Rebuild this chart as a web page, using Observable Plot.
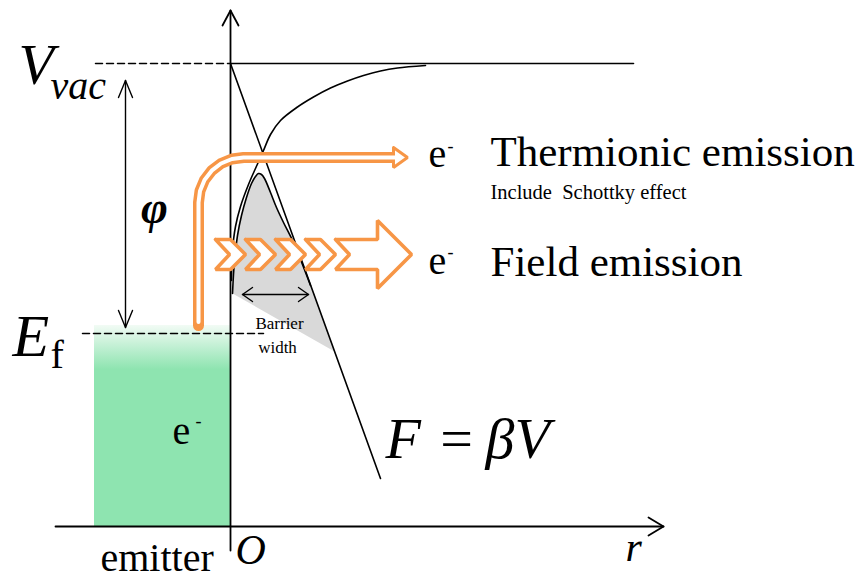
<!DOCTYPE html>
<html><head><meta charset="utf-8">
<script src="https://cdn.jsdelivr.net/npm/d3@7"></script>
<script src="https://cdn.jsdelivr.net/npm/@observablehq/plot@0.6"></script>
<style>html,body{margin:0;padding:0;background:#fff;overflow:hidden}svg{display:block}</style>
</head><body><div id="chart"></div>
<script>
// ---- diagram values (r: distance from emitter surface, E: energy; arbitrary units) ----
const vacuumLevel = 46.3;
const fermiLevel = 19.3;
const rAxis = [[-17.5, 0], [43.3, 0]];
const rArrowHead = [[41.8, 0.9], [43.3, 0], [41.8, -0.9]];
const eAxis = [[0, -2.4], [0, 51.6]];
const eArrowHead = [[-0.8, 50.1], [0, 51.6], [0.8, 50.1]];
const vacuumSolidR = [0, 40.3];
const vacuumDashR = [-13.5, 0];
const fermiDashR = [-14.8, 3.3];
const emitterR = [-13.6, 0];
const emitterE = [0, 20.1];
const phiArrowR = -10.5;
const phiArrowE = [19.9, 44.6];
// potential of applied field F = beta V (straight line)
const fieldLine = [[0, 46.3], [15, 4.8]];
// image-charge potential
const imageCurve = [[19.5,46.1],[16.7,45.85],[15.0,45.55],[13.3,45.1],[11.7,44.55],[10.0,43.85],[8.3,42.95],[6.7,41.95],[5.0,40.6],[4.0,39.2],[3.3,37.6],[2.7,36.25],[1.8,34.2],[1.0,32.0],[0.5,30.0],[0.2,27.6],[0.1,24.6]];
// combined (Schottky-lowered) barrier
const barrierCurve = [[0.2,23.3],[0.4,26.6],[0.7,29.1],[1.1,31.1],[1.6,32.9],[2.1,34.3],[2.5,35.0],[2.8,35.3],[3.1,35.2],[3.4,34.8],[4.0,33.4],[4.6,31.9],[5.3,30.4],[6.2,28.6],[7.0,26.7],[8.0,24.1]];
const barrierShadeEnd = [10.4, 17.5];
const barrierWidthE = 23.2;
const barrierWidthR = [1.2, 7.8];
// thermionic path
const thermoPath = [[-3.2,20.1],[-3.2,32.4],[-3.05,33.56],[-2.6,34.65],[-1.88,35.58],[-0.95,36.3],[0.14,36.75],[1.3,36.9],[16.3,36.9]];
const thermoHead = [[16.3,37.9],[17.7,36.9],[16.3,35.9],[16.3,37.9]];
// field-emission chevrons
const chevronStarts = [-1.5, 1.5, 4.5, 7.5];
const chevronDR = [0, 1.5, 3.0, 1.5, 0, 1.4, 0];
const chevronE = [28.7, 28.7, 27.2, 25.7, 25.7, 27.2, 28.7];
const bigArrowR = [10.5, 14.7, 14.7, 18.1, 14.7, 14.7, 10.5, 11.9, 10.5];
const bigArrowE = [28.7, 28.7, 30.6, 27.2, 23.8, 25.7, 25.7, 27.2, 28.7];

// ---- labels ----
const bigLabels = [
  {t: "Thermionic emission", r: 26.0, E: 36.1},
  {t: "Field emission", r: 26.0, E: 25.1}
];
const eLabels = [
  {t: "e", r: 19.8, E: 36.0, m: 21.7, mE: 37.5},
  {t: "e", r: 19.8, E: 25.3, m: 21.7, mE: 26.9},
  {t: "e", r: -5.8, E: 8.3, m: -3.5, mE: 10.0}
];

const serif = "'Liberation Serif','Times New Roman',serif";
const orange = "#f79646";
const P = d => d[0], Q = d => d[1];

const chevrons = chevronStarts.flatMap((r0, i) => chevronDR.map((dr, j) => ({r: r0 + dr, E: chevronE[j], k: i})));
const bigArrow = bigArrowR.map((r, i) => ({r, E: bigArrowE[i]}));
const shade = [...barrierCurve, barrierShadeEnd, barrierCurve[0]];
const thermoInner = [[thermoPath[0][0], thermoPath[0][1] + 0.35], ...thermoPath.slice(1, -1), [thermoPath[thermoPath.length-1][0] + 0.6, thermoPath[thermoPath.length-1][1]]];

const defs = () => {
  const d = d3.create("svg:defs");
  const g = d.append("linearGradient").attr("id", "emitGrad").attr("x1", 0).attr("y1", 0).attr("x2", 0).attr("y2", 1);
  g.append("stop").attr("offset", 0).attr("stop-color", "#f2fbf5");
  g.append("stop").attr("offset", 0.22).attr("stop-color", "#8ee4b0");
  g.append("stop").attr("offset", 1).attr("stop-color", "#8ee4b0");
  return d.node();
};

const ln = (data, o = {}) => Plot.line(data, {x: P, y: Q, stroke: "black", strokeWidth: 1.6, ...o});
const txt = (s, x, y, o = {}) => Plot.text([s], {x, y, text: d => d, textAnchor: "start", lineAnchor: "bottom", fontFamily: serif, ...o});

const chart = Plot.plot({
  width: 861, height: 581, margin: 0,
  x: {domain: [-23, 63.1], axis: null},
  y: {domain: [-5.5, 52.6], axis: null},
  style: {background: "white", fontFamily: serif},
  marks: [
    defs,
    Plot.rect([0], {x1: emitterR[0], x2: emitterR[1], y1: emitterE[0], y2: emitterE[1], fill: "url(#emitGrad)"}),
    Plot.line(shade, {x: P, y: Q, fill: "#d9d9d9", stroke: "none"}),
    ln(rAxis, {strokeWidth: 1.8}),
    ln(rArrowHead, {strokeWidth: 1.8}),
    ln(eAxis, {strokeWidth: 1.8}),
    ln(eArrowHead, {strokeWidth: 1.8}),
    ln(vacuumSolidR.map(r => [r, vacuumLevel])),
    ln(vacuumDashR.map(r => [r, vacuumLevel]), {strokeDasharray: "7,4", strokeWidth: 1.5}),
    ln(fermiDashR.map(r => [r, fermiLevel]), {strokeDasharray: "7,4", strokeWidth: 1.5}),
    ln(fieldLine),
    ln(imageCurve, {curve: "catmull-rom"}),
    ln(barrierCurve, {curve: "catmull-rom"}),
    ln(phiArrowE.map(E => [phiArrowR, E]), {strokeWidth: 1.4}),
    ln([[phiArrowR - 0.7, phiArrowE[1] - 1.7], [phiArrowR, phiArrowE[1]], [phiArrowR + 0.7, phiArrowE[1] - 1.7]], {strokeWidth: 1.4}),
    ln([[phiArrowR - 0.7, phiArrowE[0] + 1.7], [phiArrowR, phiArrowE[0]], [phiArrowR + 0.7, phiArrowE[0] + 1.7]], {strokeWidth: 1.4}),
    ln(barrierWidthR.map(r => [r, barrierWidthE]), {strokeWidth: 1.4}),
    ln([[barrierWidthR[0] + 1, barrierWidthE + 0.7], [barrierWidthR[0], barrierWidthE], [barrierWidthR[0] + 1, barrierWidthE - 0.7]], {strokeWidth: 1.4}),
    ln([[barrierWidthR[1] - 1, barrierWidthE + 0.7], [barrierWidthR[1], barrierWidthE], [barrierWidthR[1] - 1, barrierWidthE - 0.7]], {strokeWidth: 1.4}),
    // thermionic arrow
    Plot.line(thermoPath, {x: P, y: Q, stroke: orange, strokeWidth: 11, strokeLinejoin: "round"}),
    Plot.line(thermoHead, {x: P, y: Q, stroke: orange, strokeWidth: 3, fill: "white", strokeLinejoin: "miter"}),
    Plot.line(thermoInner, {x: P, y: Q, stroke: "white", strokeWidth: 4, strokeLinejoin: "round"}),
    // field emission arrow
    Plot.line(chevrons, {x: "r", y: "E", z: "k", stroke: orange, strokeWidth: 3.6, fill: "white", strokeLinejoin: "miter"}),
    Plot.line(bigArrow, {x: "r", y: "E", stroke: orange, strokeWidth: 3.6, fill: "white", strokeLinejoin: "miter"}),
    // labels
    Plot.text(bigLabels, {x: "r", y: "E", text: "t", fontSize: 43, textAnchor: "start", lineAnchor: "bottom", fontFamily: serif}),
    txt("emitter", -13.0, -4.4, {fontSize: 40}),
    txt("Include  Schottky effect", 26.0, 32.8, {fontSize: 20.5}),
    Plot.text(eLabels, {x: "r", y: "E", text: "t", fontSize: 40, textAnchor: "start", lineAnchor: "bottom", fontFamily: serif}),
    Plot.text(eLabels, {x: "m", y: "mE", text: () => "-", fontSize: 18, textAnchor: "start", lineAnchor: "bottom", fontFamily: serif}),
    Plot.text(["Barrier", "width"], {x: [4.9, 4.7], y: [19.8, 17.4], text: d => d, fontSize: 17, textAnchor: "middle", lineAnchor: "bottom", fontFamily: serif}),
    txt("V", -21.2, 44.3, {fontSize: 58, fontStyle: "italic"}),
    txt("vac", -18.0, 42.8, {fontSize: 40, fontStyle: "italic"}),
    txt("E", -21.8, 17.1, {fontSize: 60, fontStyle: "italic"}),
    txt("f", -18.0, 15.9, {fontSize: 40}),
    txt("φ", -7.6, 30.4, {fontSize: 46, fontStyle: "italic", fontWeight: "bold", textAnchor: "middle"}),
    txt("F", 15.5, 6.9, {fontSize: 58, fontStyle: "italic"}),
    txt("=", 22.6, 6.9, {fontSize: 58, textAnchor: "middle"}),
    txt("βV", 25.5, 6.9, {fontSize: 58, fontStyle: "italic"}),
    txt("r", 39.5, -3.4, {fontSize: 42, fontStyle: "italic"}),
    txt("O", 0.5, -3.7, {fontSize: 42, fontStyle: "italic"})
  ]
});
document.getElementById("chart").append(chart);
</script></body></html>
